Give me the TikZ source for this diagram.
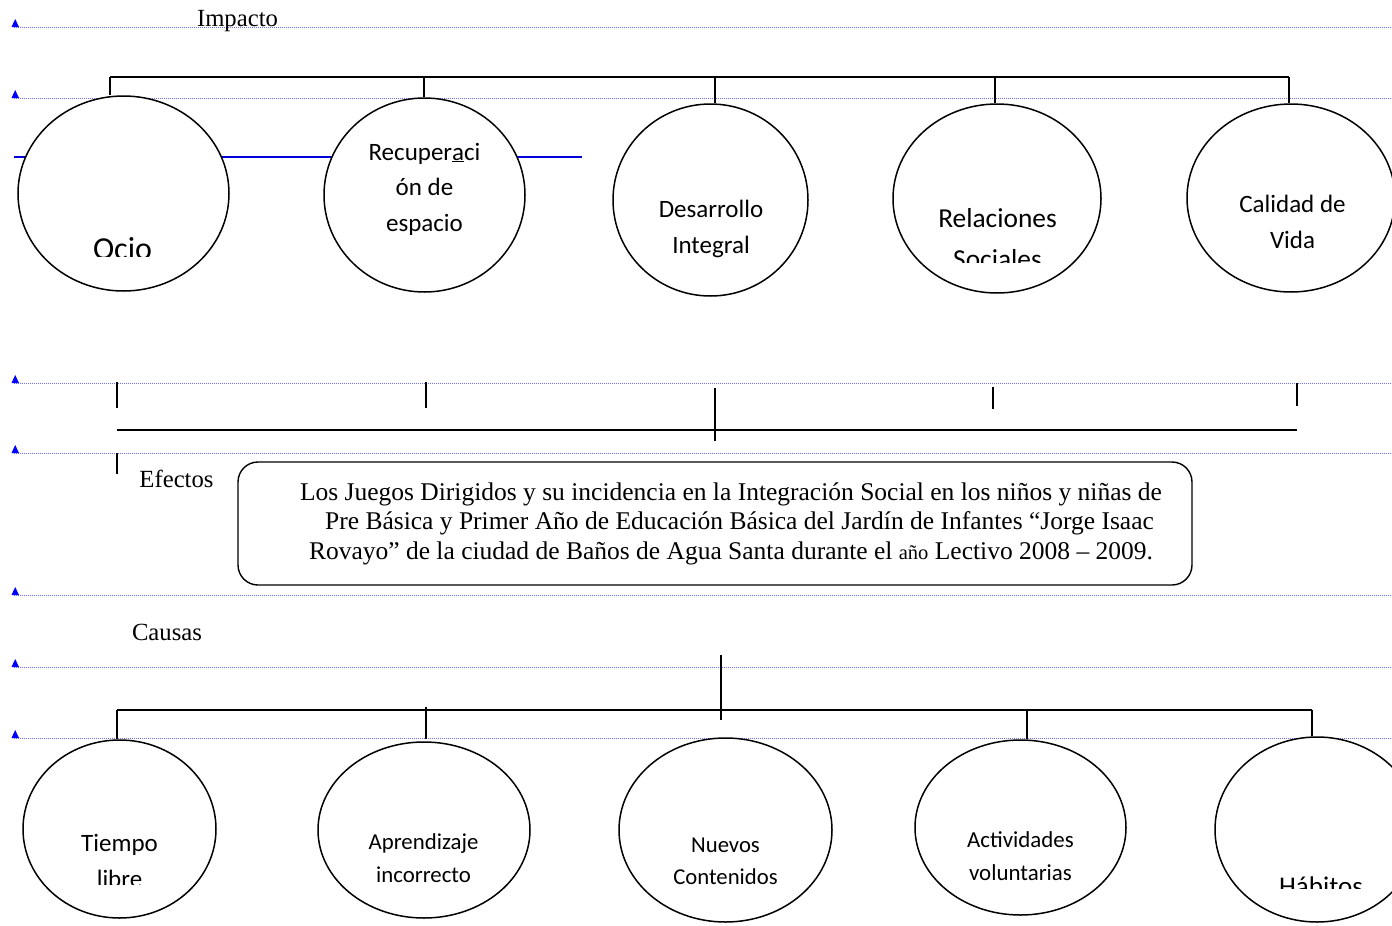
\documentclass[tikz,border=0pt]{standalone}
\usepackage{fontspec}
\setmainfont{Liberation Serif}
\newfontfamily\calfont{Carlito}
\usetikzlibrary{shapes.geometric}
\definecolor{guide}{RGB}{110,110,255}
\definecolor{guidemark}{RGB}{0,0,255}
\definecolor{bluerule}{RGB}{0,0,215}
\newcommand{\cirtxt}[1]{\begin{tabular}[t]{@{}c@{}}#1\end{tabular}}
\begin{document}
\begin{tikzpicture}[x=1pt,y=-1pt,
  bubble/.style={ellipse, draw, line width=1.5pt, fill=white, inner sep=0pt},
  ctext/.style={inner sep=0pt, anchor=base},
  link/.style={line width=1.6pt},
  guideline/.style={guide, line width=1pt, densely dotted},
  label/.style={inner sep=0pt, anchor=base, font=\fontsize{24.7}{29.5}\selectfont},
]
\useasboundingbox (0,0) rectangle (1392,926);

% guide lines with markers
\foreach \yy in {27,98,383,453,595,667,738}{
  \draw[guideline] (14,\yy) -- (1392,\yy);
  \fill[guidemark] (11.5,\yy) -- (19,\yy) -- (15.2,{\yy-8}) -- cycle;
}
% blue rule
\draw[bluerule, line width=2pt] (14,157) -- (582,157);

% top circles
\node[bubble, minimum width=211pt, minimum height=195pt] (ocio) at (123.5,193.5) {};
\node[bubble, minimum width=201pt, minimum height=194pt] (recup) at (424.5,195) {};
\node[bubble, minimum width=195pt, minimum height=192pt] (desar) at (710.5,200) {};
\node[bubble, minimum width=208pt, minimum height=189pt] (relac) at (997,198.5) {};
\node[bubble, minimum width=208pt, minimum height=188pt] (calid) at (1291,198) {};

% bottom circles
\node[bubble, minimum width=193pt, minimum height=178pt] (tiempo) at (119.5,829) {};
\node[bubble, minimum width=212pt, minimum height=176pt] (aprend) at (424,830) {};
\node[bubble, minimum width=213pt, minimum height=184pt] (nuevos) at (725.5,830) {};
\node[bubble, minimum width=211pt, minimum height=175pt] (activ) at (1020.5,827.5) {};
\node[bubble, minimum width=204pt, minimum height=185pt] (habit) at (1317,829.5) {};

% circle texts
\begin{scope}
  \clip (20,200) rectangle (225,256);
  \node[ctext, font=\calfont\fontsize{32}{38}\selectfont] (ociot) at (122.5,259) {Ocio};
\end{scope}
\node[ctext, font=\calfont\fontsize{25}{35.5}\selectfont] (recupt) at (424.5,160) {\cirtxt{Recuper\underline{a}ci\\ón de\\espacio}};
\node[ctext, font=\calfont\fontsize{25}{36}\selectfont] (desart) at (711,217) {\cirtxt{Desarrollo\\Integral}};
\begin{scope}
  \clip (895,150) rectangle (1100,262);
  \node[ctext, font=\calfont\fontsize{27.4}{41}\selectfont] (relact) at (997.5,227) {\cirtxt{Relaciones\\Sociales}};
\end{scope}
\node[ctext, font=\calfont\fontsize{25}{36}\selectfont] (calidt) at (1292.5,212) {\cirtxt{Calidad de\\Vida}};

\begin{scope}
  \clip (25,780) rectangle (215,884);
  \node[ctext, font=\calfont\fontsize{25}{36}\selectfont] (tiempot) at (119.5,851) {\cirtxt{Tiempo\\libre}};
\end{scope}
\node[ctext, font=\calfont\fontsize{22.8}{33}\selectfont] (aprendt) at (423.5,849) {\cirtxt{Aprendizaje\\incorrecto}};
\node[ctext, font=\calfont\fontsize{22.7}{32}\selectfont] (nuevost) at (725.5,852) {\cirtxt{Nuevos\\Contenidos}};
\node[ctext, font=\calfont\fontsize{22.9}{33}\selectfont] (activt) at (1020.5,847) {\cirtxt{Actividades\\voluntarias}};
\begin{scope}
  \clip (1220,850) rectangle (1392,888);
  \node[ctext, font=\calfont\fontsize{27}{33}\selectfont] (habitt) at (1321,895) {Hábitos};
\end{scope}

% top bracket
\coordinate (tb1) at (110,77);
\coordinate (tb2) at (424,77);
\coordinate (tb3) at (715,77);
\coordinate (tb4) at (995,77);
\coordinate (tb5) at (1289,77);
\draw[link] (tb1) -- (tb5);
\draw[link] (tb1) -- (tb1 |- ocio.north);
\draw[link] (tb2) -- (tb2 |- recup.north);
\draw[link] (tb3) -- (tb3 |- desar.north);
\draw[link] (tb4) -- (tb4 |- relac.north);
\draw[link] (tb5) -- (tb5 |- calid.north);

% middle (effects) lines
\coordinate (mb1) at (117,430);
\coordinate (mb5) at (1297,430);
\draw[link] (mb1) -- (mb5);
\draw[link] (117,382) -- (117,408);
\draw[link] (426,382) -- (426,408);
\draw[link] (993,387) -- (993,409);
\draw[link] (1297,383) -- (1297,406);
\draw[link] (715,388) -- (715,441);
\draw[link] (117,453) -- (117,474);

% labels
\node[label] (impacto) at (237.5,27) {Impacto};
\node[label] (efectos) at (176.5,487) {Efectos};
\node[label] (causas) at (167,640) {Causas};

% title box
\node[draw, line width=1.4pt, rounded corners=20pt, minimum width=954pt, minimum height=123pt, inner sep=0pt] (titlebox) at (715,523.5) {};
\node[inner sep=0pt, align=center, font=\fontsize{25.5}{29.5}\selectfont] (titletext) at (731,523.5)
 {Los Juegos Dirigidos y su incidencia en la Integración Social en los niños y niñas de\\
  \hspace*{17pt}Pre Básica y Primer Año de Educación Básica del Jardín de Infantes “Jorge Isaac\\
  Rovayo” de la ciudad de Baños de Agua Santa durante el {\fontsize{20.5}{29.5}\selectfont año} Lectivo 2008 – 2009.};

% bottom bracket
\coordinate (bb1) at (117,710);
\coordinate (bb2) at (426,710);
\coordinate (bb4) at (1027,710);
\coordinate (bb5) at (1312,710);
\coordinate (stemtop) at (721,655);
\coordinate (stembot) at (721,720);
\draw[link] (bb1) -- (bb5);
\draw[link] (stemtop) -- (stembot);
\draw[link] (bb1) -- (bb1 |- tiempo.north);
\draw[link] (426,707) -- (426,739);
\draw[link] (bb4) -- (bb4 |- activ.north);
\draw[link] (bb5) -- (bb5 |- habit.north);
\end{tikzpicture}
\end{document}
